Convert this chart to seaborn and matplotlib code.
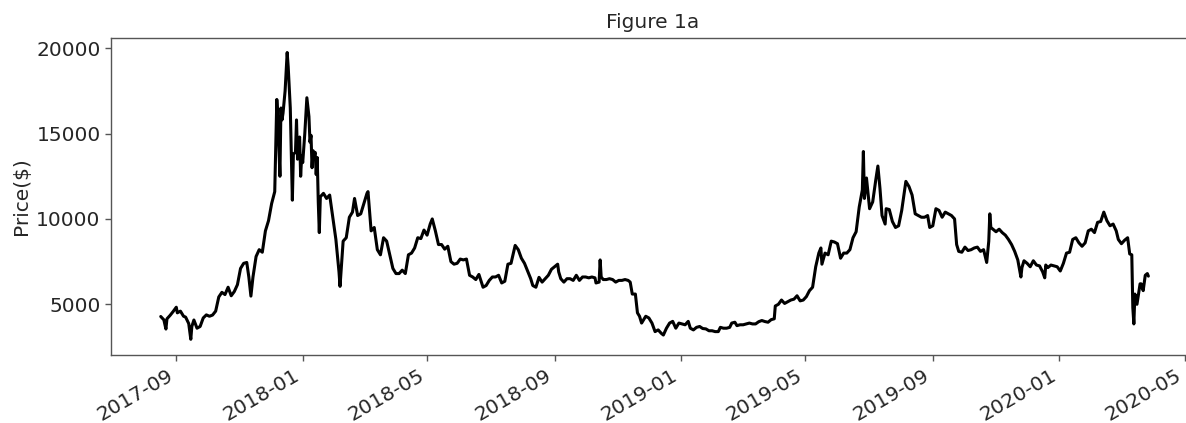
import pandas as pd
import matplotlib
matplotlib.use('Agg')
import matplotlib.pyplot as plt
import matplotlib.dates as mdates
import seaborn as sns

# BTC price, values
dates_2017 = ['2017-08-17', '2017-08-20', '2017-08-22', '2017-08-23', '2017-08-26', '2017-08-29',
              '2017-09-01', '2017-09-02', '2017-09-05', '2017-09-08', '2017-09-10', '2017-09-13',
              '2017-09-15', '2017-09-16', '2017-09-18', '2017-09-21', '2017-09-24', '2017-09-27',
              '2017-09-30', '2017-10-03', '2017-10-06', '2017-10-09', '2017-10-12', '2017-10-15',
              '2017-10-18', '2017-10-21', '2017-10-24', '2017-10-27', '2017-10-30', '2017-11-02',
              '2017-11-05', '2017-11-08', '2017-11-10', '2017-11-12', '2017-11-14', '2017-11-17',
              '2017-11-20', '2017-11-23', '2017-11-26', '2017-11-29', '2017-12-02', '2017-12-05',
              '2017-12-07', '2017-12-08', '2017-12-10', '2017-12-11', '2017-12-12', '2017-12-13',
              '2017-12-15', '2017-12-17', '2017-12-18', '2017-12-20', '2017-12-22', '2017-12-23',
              '2017-12-25', '2017-12-26', '2017-12-27', '2017-12-28', '2017-12-29', '2017-12-30',
              '2017-12-31']
price_2017 = [4285, 4090, 3550, 4150, 4350, 4580,
              4830, 4500, 4600, 4300, 4250, 3870,
              2950, 3700, 4080, 3600, 3700, 4200,
              4380, 4300, 4370, 4600, 5430, 5700,
              5570, 6000, 5500, 5750, 6150, 7100,
              7400, 7450, 6600, 5480, 6600, 7800,
              8200, 8050, 9300, 9900, 10900, 11600,
              17000, 16000, 12500, 16500, 15800, 16200,
              17500, 19750, 18900, 16500, 11100, 13800,
              13900, 15800, 13500, 14400, 14800, 12500,
              13700]

dates_2018 = ['2018-01-01', '2018-01-03', '2018-01-05', '2018-01-07', '2018-01-08', '2018-01-09',
              '2018-01-10', '2018-01-11', '2018-01-12', '2018-01-13', '2018-01-14', '2018-01-15',
              '2018-01-16', '2018-01-17',
              '2018-01-18', '2018-01-21', '2018-01-24', '2018-01-27', '2018-01-30', '2018-02-02',
              '2018-02-05', '2018-02-06', '2018-02-09', '2018-02-12', '2018-02-15', '2018-02-18',
              '2018-02-20', '2018-02-23', '2018-02-26', '2018-03-01', '2018-03-04', '2018-03-05',
              '2018-03-08', '2018-03-11', '2018-03-14', '2018-03-17', '2018-03-20', '2018-03-23',
              '2018-03-26', '2018-03-29', '2018-04-01', '2018-04-04', '2018-04-07', '2018-04-10',
              '2018-04-13', '2018-04-16', '2018-04-19', '2018-04-22', '2018-04-25', '2018-04-28',
              '2018-05-01', '2018-05-04', '2018-05-06', '2018-05-09', '2018-05-12', '2018-05-15',
              '2018-05-18', '2018-05-21', '2018-05-24', '2018-05-27', '2018-05-30', '2018-06-02',
              '2018-06-05', '2018-06-08', '2018-06-11', '2018-06-14', '2018-06-17', '2018-06-20',
              '2018-06-24', '2018-06-27', '2018-06-30', '2018-07-03', '2018-07-06', '2018-07-09',
              '2018-07-12', '2018-07-15', '2018-07-18', '2018-07-21', '2018-07-24', '2018-07-25',
              '2018-07-28', '2018-07-31', '2018-08-03', '2018-08-06', '2018-08-09', '2018-08-11',
              '2018-08-14', '2018-08-17', '2018-08-20', '2018-08-23', '2018-08-26', '2018-08-29',
              '2018-09-01', '2018-09-04', '2018-09-05', '2018-09-07', '2018-09-10', '2018-09-13',
              '2018-09-16', '2018-09-19', '2018-09-22', '2018-09-25', '2018-09-28', '2018-10-01',
              '2018-10-04', '2018-10-07', '2018-10-10', '2018-10-11', '2018-10-14', '2018-10-15',
              '2018-10-16', '2018-10-18', '2018-10-21', '2018-10-24', '2018-10-27', '2018-10-30',
              '2018-11-02', '2018-11-05', '2018-11-08', '2018-11-11', '2018-11-13', '2018-11-15',
              '2018-11-18', '2018-11-20', '2018-11-22', '2018-11-24', '2018-11-25', '2018-11-28',
              '2018-12-01', '2018-12-04', '2018-12-07', '2018-12-10', '2018-12-13', '2018-12-15',
              '2018-12-18', '2018-12-21', '2018-12-24', '2018-12-27', '2018-12-30']
price_2018 = [13300, 15000, 17100, 16000, 14500, 14900,
              13000, 14000, 13700, 13900, 12600, 13600,
              11000, 9200,
              11300, 11500, 11200, 11400, 10100, 8800,
              6900, 6050, 8700, 8900, 10100, 10400,
              11200, 10200, 10300, 10900, 11500, 11600,
              9300, 9500, 8200, 7900, 8900, 8700,
              7900, 7100, 6800, 6800, 7000, 6800,
              7900, 8000, 8300, 8900, 8850, 9350,
              9050, 9700, 10000, 9300, 8500, 8500,
              8230, 8400, 7500, 7350, 7400, 7650,
              7600, 7650, 6700, 6600, 6450, 6750,
              6000, 6100, 6400, 6600, 6600, 6700,
              6250, 6350, 7350, 7400, 8200, 8450,
              8200, 7700, 7400, 6950, 6500, 6100,
              6000, 6580, 6300, 6500, 6700, 7050,
              7200, 7350, 6900, 6500, 6300, 6500,
              6500, 6400, 6700, 6400, 6600, 6600,
              6550, 6600, 6550, 6250, 6300, 7600,
              6600, 6450, 6450, 6500, 6450, 6300,
              6400, 6400, 6450, 6400, 6300, 5600,
              5600, 4500, 4300, 3900, 4000, 4300,
              4200, 3900, 3400, 3500, 3300, 3200,
              3600, 3900, 4000, 3600, 3900]

dates_2019 = ['2019-01-02', '2019-01-05', '2019-01-08', '2019-01-10', '2019-01-13', '2019-01-16',
              '2019-01-19', '2019-01-22', '2019-01-25', '2019-01-28', '2019-01-31', '2019-02-03',
              '2019-02-06', '2019-02-08', '2019-02-11', '2019-02-14', '2019-02-17', '2019-02-19',
              '2019-02-22', '2019-02-24', '2019-02-27', '2019-03-02', '2019-03-05', '2019-03-08',
              '2019-03-11', '2019-03-14', '2019-03-17', '2019-03-20', '2019-03-23', '2019-03-26',
              '2019-03-29', '2019-04-01', '2019-04-02', '2019-04-05', '2019-04-08', '2019-04-11',
              '2019-04-14', '2019-04-17', '2019-04-20', '2019-04-23', '2019-04-26', '2019-04-29',
              '2019-05-02', '2019-05-05', '2019-05-08', '2019-05-11', '2019-05-14', '2019-05-16',
              '2019-05-17', '2019-05-20', '2019-05-23', '2019-05-26', '2019-05-29', '2019-06-01',
              '2019-06-04', '2019-06-07', '2019-06-10', '2019-06-13', '2019-06-16', '2019-06-19',
              '2019-06-22', '2019-06-25', '2019-06-26', '2019-06-27', '2019-06-29', '2019-07-02',
              '2019-07-05', '2019-07-08', '2019-07-10', '2019-07-12', '2019-07-14', '2019-07-17',
              '2019-07-18', '2019-07-21', '2019-07-24', '2019-07-27', '2019-07-30', '2019-08-02',
              '2019-08-05', '2019-08-06', '2019-08-09', '2019-08-12', '2019-08-15', '2019-08-18',
              '2019-08-21', '2019-08-24', '2019-08-27', '2019-08-29', '2019-09-01', '2019-09-04',
              '2019-09-07', '2019-09-10', '2019-09-13', '2019-09-16', '2019-09-19', '2019-09-22',
              '2019-09-24', '2019-09-26', '2019-09-29', '2019-10-02', '2019-10-05', '2019-10-08',
              '2019-10-11', '2019-10-14', '2019-10-17', '2019-10-20', '2019-10-23', '2019-10-25',
              '2019-10-26', '2019-10-27', '2019-10-29', '2019-11-01', '2019-11-04', '2019-11-07',
              '2019-11-10', '2019-11-13', '2019-11-16', '2019-11-19', '2019-11-22', '2019-11-25',
              '2019-11-26', '2019-11-28', '2019-12-01', '2019-12-04', '2019-12-07', '2019-12-10',
              '2019-12-13', '2019-12-16', '2019-12-18', '2019-12-19', '2019-12-21', '2019-12-24',
              '2019-12-27', '2019-12-30']
price_2019 = [3850, 3800, 4000, 3600, 3500, 3650,
              3700, 3580, 3560, 3450, 3450, 3400,
              3400, 3650, 3600, 3600, 3650, 3900,
              3950, 3750, 3800, 3800, 3850, 3900,
              3850, 3850, 3980, 4050, 3990, 3950,
              4100, 4150, 4900, 5000, 5250, 5050,
              5150, 5250, 5300, 5500, 5200, 5250,
              5450, 5800, 6000, 7200, 8000, 8300,
              7350, 8000, 7900, 8700, 8650, 8550,
              7700, 8000, 8000, 8200, 8900, 9250,
              10700, 11700, 13950, 11200, 12400, 10600,
              11000, 12300, 13100, 11800, 10200, 9700,
              10600, 10550, 9850, 9500, 9600, 10500,
              11800, 12200, 11900, 11400, 10300, 10200,
              10100, 10100, 10200, 9500, 9600, 10600,
              10500, 10100, 10400, 10300, 10200, 10000,
              8500, 8100, 8050, 8350, 8150, 8200,
              8300, 8350, 8100, 8200, 7450, 8700,
              10300, 9500, 9400, 9250, 9400, 9200,
              9050, 8800, 8500, 8100, 7600, 6600,
              7150, 7550, 7400, 7200, 7550, 7300,
              7250, 6900, 6550, 7300, 7150, 7300,
              7250, 7200]

dates_2020 = ['2020-01-02', '2020-01-05', '2020-01-08', '2020-01-11', '2020-01-14', '2020-01-17',
              '2020-01-20', '2020-01-23', '2020-01-26', '2020-01-29', '2020-02-01', '2020-02-04',
              '2020-02-07', '2020-02-10', '2020-02-13', '2020-02-16', '2020-02-19', '2020-02-22',
              '2020-02-25', '2020-02-27', '2020-03-01', '2020-03-04', '2020-03-07', '2020-03-09',
              '2020-03-11', '2020-03-12', '2020-03-13', '2020-03-14', '2020-03-16', '2020-03-19',
              '2020-03-20', '2020-03-22', '2020-03-24', '2020-03-26', '2020-03-27']
price_2020 = [6950, 7400, 8000, 8050, 8800, 8900,
              8600, 8400, 8600, 9300, 9400, 9200,
              9800, 9850, 10400, 9900, 9600, 9700,
              9300, 8800, 8550, 8750, 8900, 7950,
              7900, 4800, 3850, 5600, 5000, 6200,
              6200, 5800, 6700, 6800, 6650]

df = pd.DataFrame({
    'date': pd.to_datetime(dates_2017 + dates_2018 + dates_2019 + dates_2020),
    'price': price_2017 + price_2018 + price_2019 + price_2020,
})

sns.set_style('white')
plt.rcParams['font.family'] = ['DejaVu Sans']
text_col = '#262626'

fig = plt.figure(figsize=(11.86, 4.23), dpi=100)
ax = fig.add_axes([111 / 1186, 68 / 423, 1084 / 1186, 317 / 423])
sns.lineplot(data=df, x='date', y='price', color='black', linewidth=2.2,
             estimator=None, ax=ax)

ax.set_xlim(pd.Timestamp('2017-06-30'), pd.Timestamp('2020-05-11'))
ax.set_ylim(2030, 20600)
ax.set_yticks([5000, 10000, 15000, 20000])
ax.xaxis.set_major_locator(mdates.MonthLocator(bymonth=[1, 5, 9]))
ax.xaxis.set_major_formatter(mdates.DateFormatter('%Y-%m'))

ax.set_title('Figure 1a', fontsize=14.5, color=text_col, pad=7)
ax.set_xlabel('')
ax.set_ylabel('Price($)', fontsize=14.5, color=text_col)
ax.tick_params(axis='both', labelsize=14.5, labelcolor=text_col, color='#555555',
               length=4, width=1, bottom=True, left=True)
for lab in ax.get_xticklabels():
    lab.set_rotation(30)
    lab.set_ha('right')
for sp in ax.spines.values():
    sp.set_color('#555555')
    sp.set_linewidth(1)

fig.savefig('out.png', dpi=100)
